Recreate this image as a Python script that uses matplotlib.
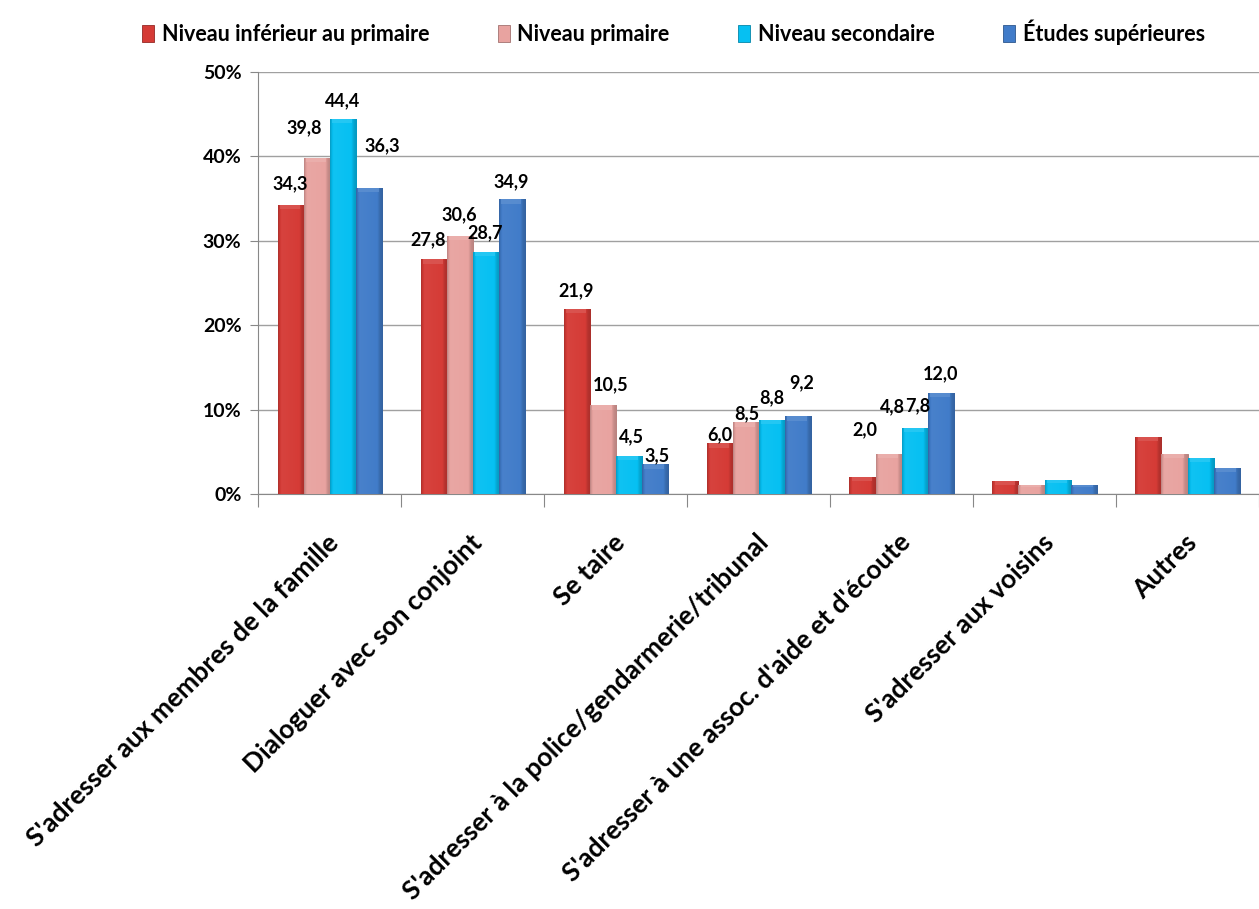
import numpy as np
import matplotlib.pyplot as plt
from matplotlib.colors import to_rgb
from matplotlib.ticker import FuncFormatter

plt.rcParams['font.family'] = ['Lato', 'DejaVu Sans']
plt.rcParams['font.weight'] = 'bold'

# data
categories = ["S'adresser aux membres de la famille",
              "Dialoguer avec son conjoint",
              "Se taire",
              "S'adresser à la police/gendarmerie/tribunal",
              "S'adresser à une assoc. d'aide et d'écoute",
              "S'adresser aux voisins",
              "Autres"]
series_names = ["Niveau inférieur au primaire", "Niveau primaire",
                "Niveau secondaire", "Études supérieures"]
inf_primaire = [34.3, 27.8, 21.9, 6.0, 2.0, 1.5, 6.8]
primaire = [39.8, 30.6, 10.5, 8.5, 4.8, 1.1, 4.8]
secondaire = [44.4, 28.7, 4.5, 8.8, 7.8, 1.7, 4.3]
superieur = [36.3, 34.9, 3.5, 9.2, 12.0, 1.1, 3.1]
# only the first five groups carry value labels
labelled = [True, True, True, True, True, False, False]

series = [inf_primaire, primaire, secondaire, superieur]
colors = ['#D53B36', '#E8A3A0', '#06C0F2', '#417CC9']

# label nudges (dx, dy) in points, per group and series
nudges = [[(0, 15), (-9, 22), (0, 13), (10, 30)],
          [(-4, 14), (0, 15), (0, 14), (0, 13)],
          [(0, 13), (6, 15), (2, 14), (2, 6)],
          [(0, 6), (1, 6), (0, 16), (3, 24)],
          [(2, 34), (3, 34), (2, 16), (0, 14)]]


def shade(c, f):
    c = np.array(to_rgb(c))
    if f < 1:
        return c * f
    return c + (1 - c) * (f - 1)


def bevel(ax, bar, col):
    # horizontal shading to mimic the bevelled Excel bars
    x0, y0 = bar.get_x(), bar.get_y()
    bw, bh = bar.get_width(), bar.get_height()
    t = np.linspace(0, 1, 40)
    f = np.interp(t, [0, 0.06, 0.12, 0.8, 0.9, 1],
                  [0.82, 0.95, 1.04, 1.0, 0.85, 0.8])
    img = np.array([[np.clip(shade(col, v), 0, 1) for v in f]])
    im = ax.imshow(img, extent=(x0, x0 + bw, y0, y0 + bh), aspect='auto',
                   zorder=3.1, interpolation='bilinear')
    im.set_clip_path(bar)
    cap = min(0.5, bh * 0.25)
    ax.fill_between([x0 + bw * 0.08, x0 + bw * 0.88], y0 + bh - cap,
                    y0 + bh, color=shade(col, 1.15), alpha=0.8,
                    zorder=3.2, lw=0)


fig = plt.figure(figsize=(12.59, 9.09), dpi=100)
ax = fig.add_axes([0.205, 0.4565, 0.795, 0.4643])

x = np.arange(len(categories))
w = 0.182
for i, vals in enumerate(series):
    pos = x + (i - 1.5) * w
    bars = ax.bar(pos, vals, width=w, color=colors[i],
                  edgecolor=shade(colors[i], 0.7), linewidth=0.6,
                  label=series_names[i], zorder=3)
    for b in bars:
        bevel(ax, b, colors[i])
    for j, v in enumerate(vals):
        if not labelled[j]:
            continue
        dx, dy = nudges[j][i]
        ax.annotate(f"{v:.1f}".replace('.', ','), (pos[j], v),
                    xytext=(dx, dy), textcoords='offset points',
                    ha='center', va='center', fontsize=13,
                    fontweight='bold', zorder=5)

ax.set_xlim(-0.5, len(categories) - 0.5)
ax.set_ylim(0, 50)
ax.set_yticks(np.arange(0, 51, 10))
ax.yaxis.set_major_formatter(FuncFormatter(lambda v, p: f"{v:.0f}%"))
ax.grid(axis='y', color='#A0A0A0', linewidth=1, zorder=0)

ax.set_xticks(np.arange(-0.5, len(categories), 1))
ax.set_xticklabels([])
ax.tick_params(axis='x', length=9, color='#888888', direction='out')
ax.tick_params(axis='y', length=6, color='#888888', labelsize=14, pad=6)
for lbl in ax.get_yticklabels():
    lbl.set_fontweight('bold')

for s in ['top', 'right']:
    ax.spines[s].set_visible(False)
for s in ['left', 'bottom']:
    ax.spines[s].set_color('#888888')

for j, name in enumerate(categories):
    ax.annotate(name, (x[j], 0), xytext=(4, -32), textcoords='offset points',
                rotation=45, rotation_mode='anchor', ha='right', va='center',
                fontsize=19, fontweight='bold')

fig.legend(loc='upper center', bbox_to_anchor=(0.535, 1.0), ncol=4,
           frameon=False, handlelength=0.55, handleheight=0.9,
           handletextpad=0.35, columnspacing=3.2,
           prop={'weight': 'bold', 'size': 15.5})

fig.savefig('out.png', dpi=100)
